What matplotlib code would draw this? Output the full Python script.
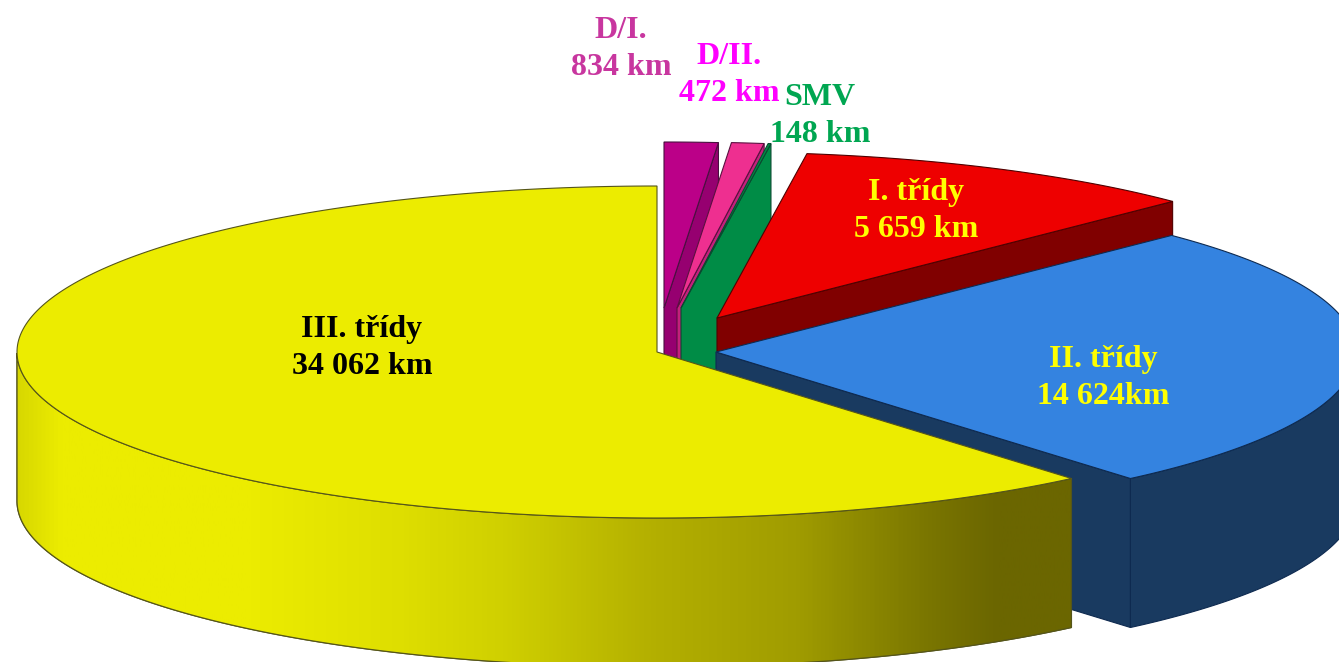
"""Exploded 3D-look pie of road lengths by class, projected by hand onto an ellipse."""

import numpy as np
import matplotlib
matplotlib.use('Agg')
import matplotlib.pyplot as plt
from matplotlib.colors import LinearSegmentedColormap
from matplotlib.patches import Polygon

# Slices, clockwise from 12 o'clock
names = ['D/I.', 'D/II.', 'SMV', 'I. třídy', 'II. třídy', 'III. třídy']
lengths_km = [834, 472, 148, 5659, 14624, 34062]
value_labels = ['834 km', '472 km', '148 km', '5 659 km', '14 624km', '34 062 km']

top_colors = ['#bb0088', '#ee2f90', '#008c46', '#ee0000', '#3483e0', '#ecec00']
side_colors = ['#960070', '#c4207c', '#008c46', '#800000', '#193a60', '#ecec00']
edge_colors = ['#4a1040', '#5a1040', '#0a4a30', '#500000', '#0e2a50', '#55551a']
label_colors = ['#c8369f', '#ff00ff', '#00a651', '#ffff00', '#ffff00', '#000000']

# Where each slice sits relative to the pie centre (pixels), and label anchors
offset_x = [7, 20, 24, 60, 59, 0]
offset_y = [-44, -44, -44, -34, 0, 0]
label_x = [621, 729, 820, 916, 1103, 362]
label_y = [49, 75, 116, 211, 378, 348]

# The original draws some slices a little off their exact share
start_nudge = [0, -0.5, -0.6, -1.3, -0.5, -0.6]

# Yellow wall shading, left to right
fade_stops = [(0.0, '#d8d800'), (0.04, '#ecec00'), (0.22, '#ecec00'), (0.365, '#dede00'),
              (0.46, '#d0d000'), (0.6, '#b4b000'), (0.74, '#a09c00'), (0.865, '#7a7600'),
              (0.93, '#6b6600'), (1.0, '#6b6600')]

CX, CY = 657, 352
RX, RY = 640, 166
DEPTH = 149

plt.rcParams['font.family'] = ['Liberation Serif', 'DejaVu Serif']


def rim(theta, cx, cy):
    """Points on the top ellipse for clockwise angles in degrees."""
    t = np.radians(theta)
    return cx + RX * np.sin(t), cy - RY * np.cos(t)


def draw_slice(ax, i, start, end, z):
    cx, cy = CX + offset_x[i], CY + offset_y[i]
    theta = np.linspace(start, end, 240)
    x, y = rim(theta, cx, cy)
    edge = edge_colors[i]

    # Radial face on the clockwise side, only seen on the right half
    ex, ey = rim(end, cx, cy)
    if end < 180:
        face = [(cx, cy), (ex, ey), (ex, ey + DEPTH), (cx, cy + DEPTH)]
        ax.add_patch(Polygon(face, fc=side_colors[i], ec=edge, lw=0.8, zorder=z))

    # Outer wall, front half of the ellipse
    front = theta[(theta >= 90) & (theta <= 270)]
    if len(front):
        wx, wy = rim(front, cx, cy)
        wall = np.r_[np.c_[wx, wy], np.c_[wx, wy + DEPTH][::-1]]
        patch = Polygon(wall, fc=side_colors[i], ec=edge, lw=0.8, zorder=z)
        ax.add_patch(patch)
        if i == 5:
            fade = LinearSegmentedColormap.from_list('fade', fade_stops)
            img = ax.imshow(np.linspace(0, 1, 512)[None, :], cmap=fade, aspect='auto',
                            extent=(wx.min(), wx.max(), 662, 0), zorder=z)
            img.set_clip_path(patch)
            ax.add_patch(Polygon(wall, fc='none', ec=edge, lw=0.9, zorder=z))

    top = np.r_[[[cx, cy]], np.c_[x, y]]
    ax.add_patch(Polygon(top, fc=top_colors[i], ec=edge, lw=0.8, zorder=z + 0.1))


fig = plt.figure(figsize=(13.39, 6.62), dpi=100)
ax = fig.add_axes([0, 0, 1, 1])

edges = 360 * np.cumsum([0] + lengths_km) / sum(lengths_km)
for i in range(len(names)):
    draw_slice(ax, i, edges[i] + start_nudge[i], edges[i + 1] + (start_nudge[i + 1] if i < 5 else 0), i + 1)

for i in range(len(names)):
    ax.text(label_x[i], label_y[i], names[i] + '\n' + value_labels[i], color=label_colors[i],
            fontsize=23, fontweight='bold', ha='center', va='center', linespacing=1.37, zorder=20)

ax.set_xlim(0, 1339)
ax.set_ylim(662, 0)
ax.axis('off')
fig.savefig('out.png', dpi=100)
